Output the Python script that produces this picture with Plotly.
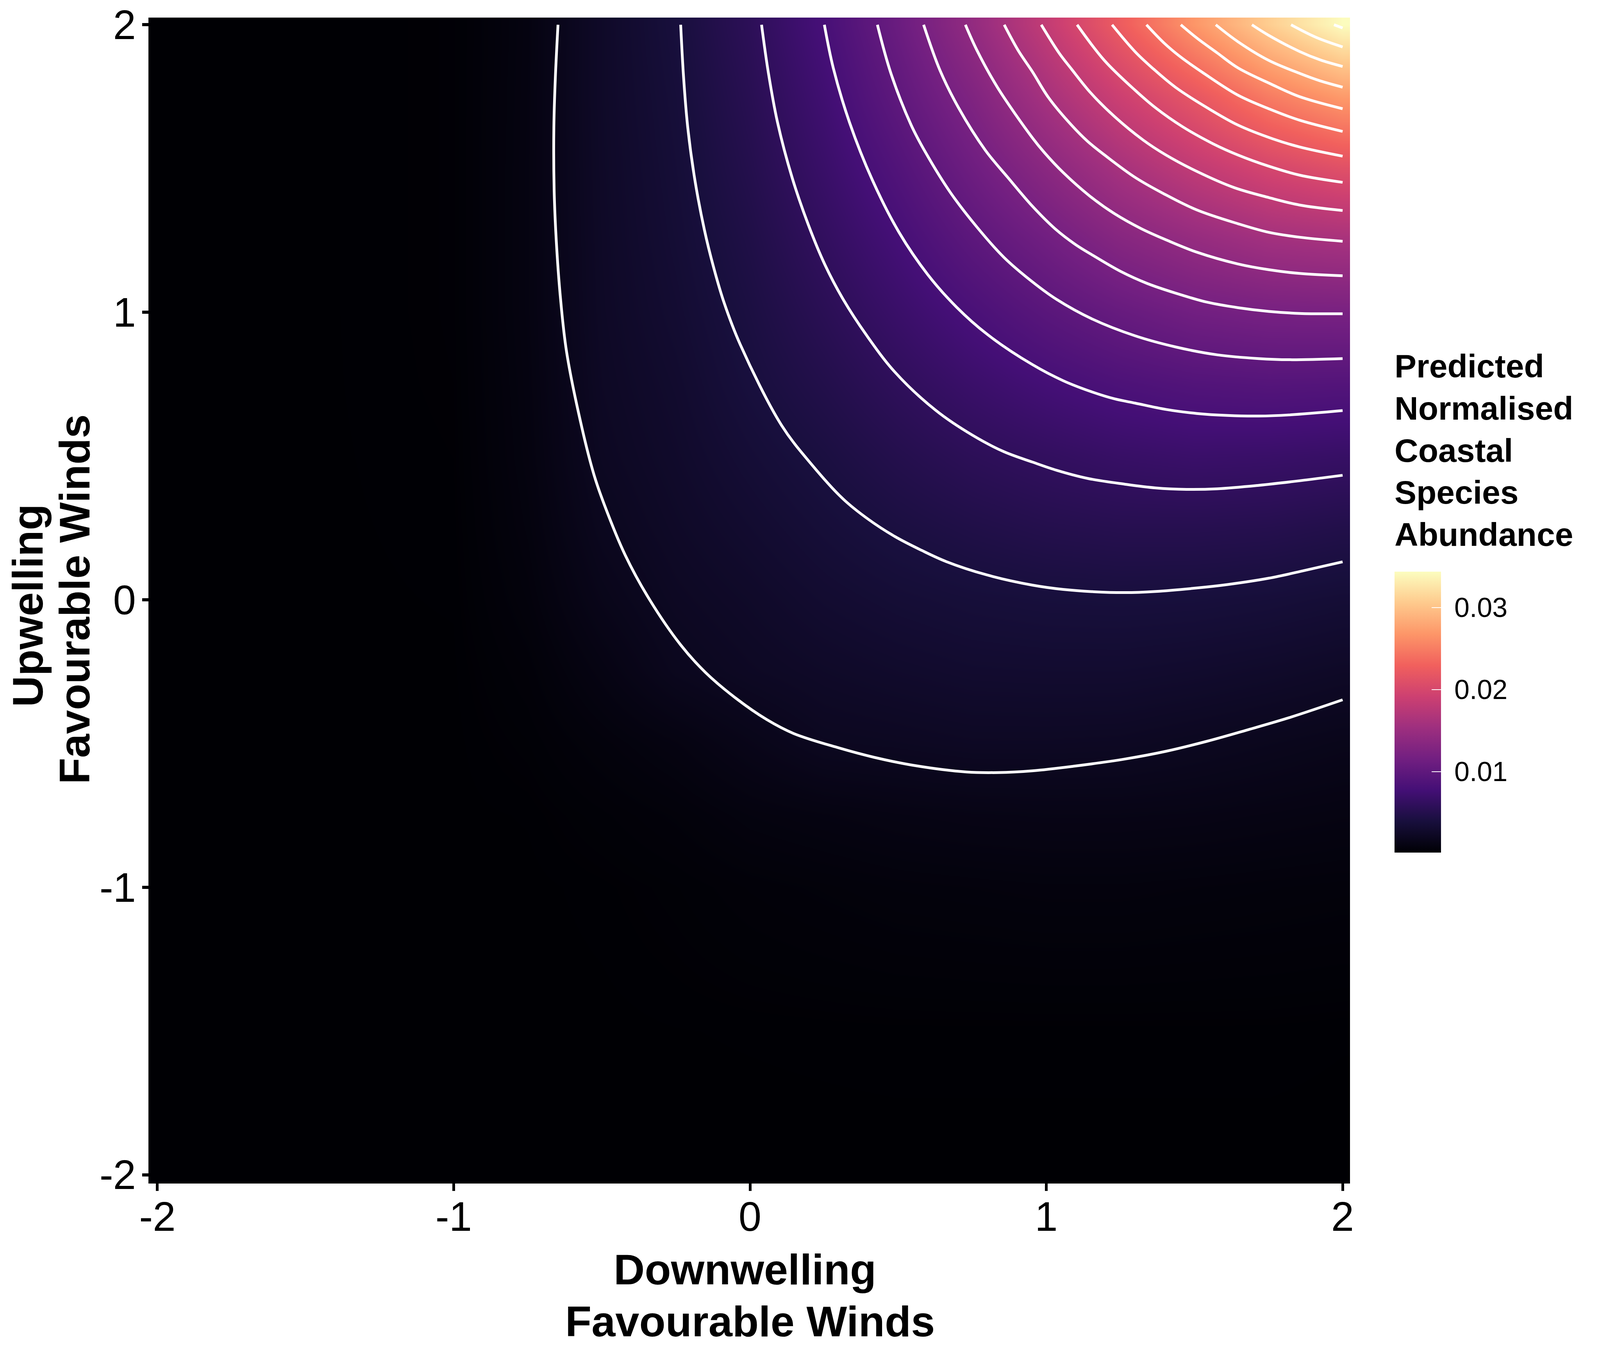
import plotly.graph_objects as go

# Grid knots (wind indices)
grid_x = [-2.025, -1.5, -1, -0.75, -0.5, -0.25, 0, 0.25, 0.5, 0.75, 1, 1.25, 1.5, 1.75, 2, 2.025]
grid_y = [-2.025, -1.5, -1, -0.75, -0.5, -0.25, 0, 0.25, 0.5, 0.75, 1, 1.25, 1.5, 1.75, 2, 2.025]

# Predicted abundance, in thousandths, one row per grid_y value
row_m2025 = [.14, .14, .14, .14, .14, .14, .14, .14, .14, .14, .14, .14, .14, .14, .14, .14]
row_m15 = [.14, .14, .14, .14, .15, .17, .18, .19, .2, .2, .2, .2, .2, .2, .18, .18]
row_m1 = [.14, .14, .14, .15, .2, .3, .45, .55, .65, .7, .75, .75, .7, .65, .6, .6]
row_m075 = [.14, .14, .15, .18, .35, .55, .85, 1.0, 1.15, 1.25, 1.3, 1.3, 1.25, 1.15, 1.05, 1.05]
row_m05 = [.14, .14, .15, .3, .65, 1.0, 1.5, 2.0, 2.1, 2.25, 2.25, 2.2, 2.0, 1.8, 1.6, 1.6]
row_m025 = [.14, .14, .16, .45, 1.1, 1.85, 2.25, 2.55, 2.8, 3.0, 3.05, 3.05, 2.9, 2.7, 2.45, 2.45]
row_0 = [.14, .15, .18, .65, 1.55, 2.2, 2.6, 3.1, 3.45, 3.7, 3.85, 3.9, 3.85, 3.7, 3.45, 3.45]
row_025 = [.14, .15, .2, .8, 1.9, 2.5, 3.05, 3.65, 4.2, 4.65, 5.0, 5.2, 5.2, 5.1, 4.8, 4.8]
row_05 = [.14, .15, .22, .9, 2.15, 2.75, 3.5, 4.2, 5.0, 5.7, 6.2, 6.65, 6.9, 6.8, 6.6, 6.6]
row_075 = [.14, .15, .24, .95, 2.3, 2.95, 3.95, 4.85, 5.9, 6.9, 7.75, 8.45, 8.9, 9.1, 9.0, 9.0]
row_1 = [.14, .15, .25, 1.0, 2.4, 3.2, 4.25, 5.5, 6.85, 8.2, 9.5, 10.6, 11.5, 11.96, 12.1, 12.1]
row_125 = [.14, .15, .25, 1.0, 2.45, 3.4, 4.6, 6.15, 7.8, 9.7, 11.4, 13.2, 14.5, 15.6, 16.05, 16.05]
row_15 = [.14, .15, .25, 1.0, 2.5, 3.55, 5.0, 6.8, 8.85, 11.2, 13.6, 16.0, 18.1, 19.85, 21.1, 21.1]
row_175 = [.14, .15, .25, .98, 2.55, 3.7, 5.35, 7.4, 9.95, 12.7, 16.0, 19.1, 21.8, 24.9, 27.1, 27.1]
row_2 = [.14, .15, .25, .95, 2.55, 3.9, 5.7, 8.0, 10.9, 14.35, 18.3, 22.5, 26.8, 30.8, 34.3, 34.3]
rows_milli = [row_m2025, row_m15, row_m1, row_m075, row_m05, row_m025, row_0, row_025, row_05,
              row_075, row_1, row_125, row_15, row_175, row_2, row_2]

# Contour lines (levels 0.002 apart)
c1_x = [-.648, -.657, -.662, -.661, -.654, -.640, -.619, -.567, -.526, -.491, -.421, -.338, -.234, -.151, -.047, .057, .147, .299, .419, .558, .731, .836, .953, 1.092, 1.265, 1.404, 1.543, 1.681, 1.820, 2.0]
c1_y = [2.0, 1.815, 1.642, 1.425, 1.252, 1.053, .862, .597, .433, .329, .155, -.001, -.157, -.252, -.343, -.417, -.465, -.515, -.548, -.577, -.599, -.601, -.595, -.579, -.554, -.527, -.492, -.452, -.410, -.348]
c2_x = [-.234, -.224, -.210, -.186, -.154, -.123, -.088, -.033, .107, .211, .315, .398, .489, .579, .662, .801, .953, 1.057, 1.161, 1.265, 1.369, 1.508, 1.612, 1.751, 1.855, 2.0]
c2_y = [2.0, 1.815, 1.642, 1.460, 1.287, 1.157, 1.035, .888, .606, .467, .350, .281, .220, .172, .133, .086, .051, .036, .028, .025, .029, .041, .053, .075, .098, .132]
c3_x = [.039, .062, .093, .142, .197, .253, .315, .392, .489, .628, .753, .857, .953, 1.036, 1.140, 1.265, 1.369, 1.473, 1.577, 1.716, 1.855, 2.0]
c3_y = [2.0, 1.833, 1.660, 1.469, 1.304, 1.165, 1.044, .922, .792, .658, .571, .515, .479, .450, .422, .402, .389, .384, .386, .398, .414, .433]
c4_x = [.251, .281, .336, .413, .503, .600, .697, .801, .953, 1.057, 1.154, 1.230, 1.300, 1.404, 1.508, 1.612, 1.716, 1.820, 2.0]
c4_y = [2.0, 1.850, 1.660, 1.460, 1.278, 1.131, 1.018, .923, .818, .762, .723, .699, .684, .662, .648, .641, .639, .643, .658]
c5_x = [.430, .475, .544, .593, .676, .767, .857, .953, 1.036, 1.154, 1.300, 1.438, 1.577, 1.716, 1.820, 2.0]
c5_y = [2.0, 1.833, 1.651, 1.555, 1.417, 1.295, 1.191, 1.106, 1.044, .977, .918, .879, .852, .839, .835, .839]
c6_x = [.586, .641, .704, .794, .870, .953, 1.029, 1.098, 1.154, 1.251, 1.341, 1.438, 1.543, 1.647, 1.751, 1.855, 2.0]
c6_y = [2.0, 1.842, 1.711, 1.564, 1.469, 1.369, 1.291, 1.236, 1.200, 1.142, 1.100, 1.066, 1.035, 1.016, 1.003, .996, .995]
c7_x = [.727, .766, .836, .953, .994, 1.057, 1.147, 1.230, 1.320, 1.404, 1.508, 1.647, 1.751, 1.855, 2.0]
c7_y = [2.0, 1.911, 1.781, 1.607, 1.555, 1.486, 1.404, 1.343, 1.291, 1.252, 1.209, 1.168, 1.148, 1.135, 1.127]
c8_x = [.858, .905, .953, 1.008, 1.085, 1.140, 1.203, 1.300, 1.397, 1.508, 1.647, 1.751, 1.855, 2.0]
c8_y = [2.0, 1.911, 1.837, 1.746, 1.651, 1.594, 1.542, 1.469, 1.412, 1.356, 1.308, 1.278, 1.261, 1.247]
c9_x = [.983, 1.043, 1.085, 1.150, 1.230, 1.327, 1.404, 1.508, 1.633, 1.751, 1.855, 2.0]
c9_y = [2.0, 1.902, 1.846, 1.763, 1.681, 1.599, 1.547, 1.490, 1.434, 1.399, 1.373, 1.354]
c10_x = [1.104, 1.196, 1.300, 1.369, 1.459, 1.563, 1.647, 1.751, 1.855, 2.0]
c10_y = [2.0, 1.876, 1.772, 1.711, 1.646, 1.586, 1.547, 1.508, 1.477, 1.452]
c11_x = [1.222, 1.300, 1.362, 1.438, 1.550, 1.647, 1.765, 1.855, 2.0]
c11_y = [2.0, 1.906, 1.846, 1.781, 1.707, 1.651, 1.603, 1.575, 1.543]
c12_x = [1.338, 1.397, 1.452, 1.529, 1.647, 1.758, 1.855, 2.0]
c12_y = [2.0, 1.937, 1.889, 1.833, 1.755, 1.705, 1.668, 1.629]
c13_x = [1.454, 1.508, 1.577, 1.647, 1.758, 1.855, 2.0]
c13_y = [2.0, 1.954, 1.902, 1.850, 1.794, 1.750, 1.708]
c14_x = [1.572, 1.647, 1.751, 1.855, 1.924, 2.0]
c14_y = [2.0, 1.941, 1.876, 1.831, 1.805, 1.783]
c15_x = [1.694, 1.751, 1.855, 1.924, 2.0]
c15_y = [2.0, 1.963, 1.907, 1.878, 1.855]
c16_x = [1.826, 1.911, 2.0]
c16_y = [2.0, 1.956, 1.923]
c17_x = [1.971, 2.0]
c17_y = [2.0, 1.989]
contours = [(c1_x, c1_y), (c2_x, c2_y), (c3_x, c3_y), (c4_x, c4_y), (c5_x, c5_y), (c6_x, c6_y),
            (c7_x, c7_y), (c8_x, c8_y), (c9_x, c9_y), (c10_x, c10_y), (c11_x, c11_y), (c12_x, c12_y),
            (c13_x, c13_y), (c14_x, c14_y), (c15_x, c15_y), (c16_x, c16_y), (c17_x, c17_y)]

axis_ticks = [-2, -1, 0, 1, 2]
bar_ticks = [0.01, 0.02, 0.03]
bar_labels = ["0.01", "0.02", "0.03"]
z_low = 0.00014
z_high = 0.03438
x_title_lines = ["Downwelling", "Favourable Winds"]
y_title_lines = ["Upwelling", "Favourable Winds"]
legend_lines = ["Predicted", "Normalised", "Coastal", "Species", "Abundance"]

# The browser window is really 4096 wide, so horizontal layout is scaled to it
W, H = 4096, 3496
SX = W / 4960
L, R, T, B = 465 * SX, 4185 * SX, 45, 3025
FONT = "Liberation Sans"


def px(x):
    return (x * SX - L) / (R - L)


def py(y):
    return (B - y) / (B - T)


bar_top, bar_bottom, bar_left, bar_right = 1463, 2182, 4323, 4467

z = [[v / 1000 for v in row] for row in rows_milli]

fig = go.Figure()
fig.add_trace(go.Heatmap(
    x=grid_x, y=grid_y, z=z, zsmooth="best", colorscale="Magma", zmin=z_low, zmax=z_high,
    hoverinfo="skip",
    colorbar=dict(
        x=px(bar_left), xanchor="left", xpad=0,
        y=py(bar_top), yanchor="top", ypad=0,
        lenmode="pixels", len=bar_bottom - bar_top,
        thicknessmode="pixels", thickness=(bar_right - bar_left) * SX,
        outlinewidth=0, borderwidth=0,
        tickmode="array", tickvals=bar_ticks, ticktext=["\u00a0" + s for s in bar_labels],
        ticks="inside", ticklen=24, tickwidth=2, tickcolor="white",
        tickfont=dict(family=FONT, size=70, color="black"),
    ),
))
for cx, cy in contours:
    fig.add_trace(go.Scatter(x=cx, y=cy, mode="lines", showlegend=False, hoverinfo="skip",
                             line=dict(color="white", width=7, shape="spline", smoothing=1.0)))

axis_common = dict(
    tickmode="array", tickvals=axis_ticks, ticktext=[str(t) for t in axis_ticks],
    ticks="outside", tickcolor="black",
    tickfont=dict(family=FONT, size=105, color="black"),
    showgrid=False, zeroline=False, showline=True, linewidth=4, linecolor="black",
    range=[-2.025, 2.025],
)
fig.update_xaxes(**axis_common, ticklen=19, tickwidth=7, ticklabelstandoff=-24)
fig.update_yaxes(**axis_common, ticklen=16, tickwidth=8, ticklabelstandoff=-5)

notes = []
for txt, cx, cy in zip(x_title_lines, [2309, 2325], [3248, 3381]):
    notes.append(dict(text=txt, x=px(cx), y=py(cy), xanchor="center", yanchor="middle"))
for txt, cx, cy in zip(y_title_lines, [85, 231], [1550, 1534]):
    notes.append(dict(text=txt, x=px(cx), y=py(cy), xanchor="center", yanchor="middle", textangle=-90))
for n in notes:
    n.update(font=dict(family=FONT, size=110, color="black", weight="bold"))
for txt, cy in zip(legend_lines, [937, 1045, 1153, 1260, 1368]):
    notes.append(dict(text=txt, x=px(4323), y=py(cy), xanchor="left", yanchor="middle",
                      font=dict(family=FONT, size=84, color="black", weight="bold")))
for n in notes:
    n.update(xref="paper", yref="paper", showarrow=False, borderpad=0, borderwidth=0)

shapes = []
for t in bar_ticks:
    yp = py(bar_bottom) + (t - z_low) / (z_high - z_low) * (py(bar_top) - py(bar_bottom))
    shapes.append(dict(type="line", xref="paper", yref="paper", x0=px(bar_left), x1=px(bar_left + 29),
                       y0=yp, y1=yp, line=dict(color="white", width=2)))

fig.update_layout(
    width=W, height=H, autosize=False,
    margin=dict(l=L, r=W - R, t=T, b=H - B, pad=0, autoexpand=False),
    paper_bgcolor="white", plot_bgcolor="white",
    annotations=notes, shapes=shapes, showlegend=False,
    font=dict(family=FONT),
)
fig.write_html("out.html", config={"displayModeBar": False},
               post_script="document.body.style.margin='0';")
